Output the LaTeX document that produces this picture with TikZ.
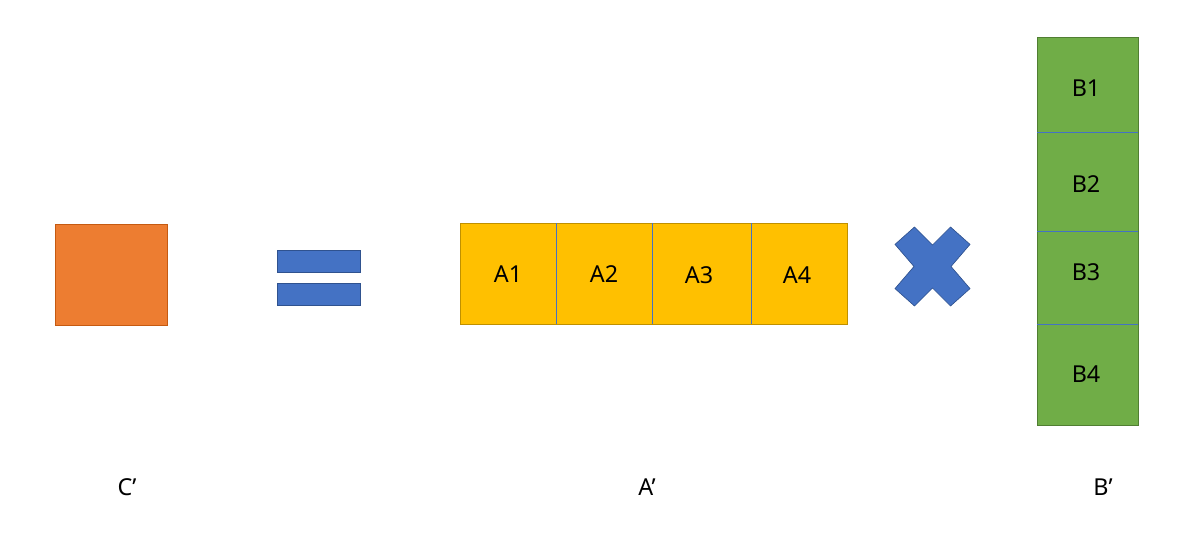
\documentclass[tikz,border=0pt]{standalone}
\usepackage{fontspec}
\setmainfont{Noto Sans}
\definecolor{corange}{HTML}{ED7D31}
\definecolor{corangeD}{HTML}{C55A11}
\definecolor{cblue}{HTML}{4472C4}
\definecolor{cblueD}{HTML}{2F528F}
\definecolor{cyellow}{HTML}{FFC000}
\definecolor{cyellowD}{HTML}{BF9000}
\definecolor{cgreen}{HTML}{70AD47}
\definecolor{cgreenD}{HTML}{507E32}
\begin{document}
\begin{tikzpicture}[x=0.75pt,y=-0.75pt,
  cell/.style={inner sep=0pt,outer sep=0pt},
  acell/.style={cell,fill=cyellow,minimum height=75.75pt},
  bcell/.style={cell,fill=cgreen,minimum width=75.75pt},
  bar/.style={inner sep=0pt,outer sep=0pt,fill=cblue,draw=cblueD,line width=0.6pt,minimum width=62.25pt,minimum height=16.5pt},
  divider/.style={draw=cblue,line width=0.6pt},
  lbl/.style={inner sep=0pt,font=\fontsize{17.5}{20}\selectfont}]
\useasboundingbox (0,0) rectangle (1200,535);
% C'
\node[cell,fill=corange,draw=corangeD,line width=0.7pt,minimum width=84pt,minimum height=75.75pt] (c) at (111,274.5) {};
% equals
\node[bar] (eq1) at (318.5,261.5) {};
\node[bar] (eq2) at (318.5,294.5) {};
% A cells
\node[acell,minimum width=72pt] (a1) at (508,273.5) {};
\node[acell,minimum width=72pt] (a2) at (604,273.5) {};
\node[acell,minimum width=74.25pt] (a3) at (701.5,273.5) {};
\node[acell,minimum width=72pt] (a4) at (799,273.5) {};
\draw[draw=cyellowD,line width=0.7pt] (a1.north west) rectangle (a4.south east);
\draw[divider] (a1.north east) -- (a1.south east);
\draw[divider] (a2.north east) -- (a2.south east);
\draw[divider] (a3.north east) -- (a3.south east);
\node[lbl] (ta1) at (508,274) {A1};
\node[lbl] (ta2) at (604,274) {A2};
\node[lbl] (ta3) at (699,275) {A3};
\node[lbl] (ta4) at (797,275) {A4};
% times
\draw[fill=cblue,draw=cblueD,line width=0.5pt]
  (895,244.4) -- (914.5,227) -- (932.5,245) -- (950.5,227) -- (970,244.4)
  -- (951,266.5) -- (970,288.6) -- (950.5,306) -- (932.5,288) -- (914.5,306)
  -- (895,288.6) -- (914,266.5) -- cycle;
% B cells
\node[bcell,minimum height=71.25pt] (b1) at (1087.5,84.5) {};
\node[bcell,minimum height=74.25pt] (b2) at (1087.5,181.5) {};
\node[bcell,minimum height=69.75pt] (b3) at (1087.5,277.5) {};
\node[bcell,minimum height=75.75pt] (b4) at (1087.5,374.5) {};
\draw[draw=cgreenD,line width=0.7pt] (b1.north west) rectangle (b4.south east);
\draw[divider] (b1.south west) -- (b1.south east);
\draw[divider] (b2.south west) -- (b2.south east);
\draw[divider] (b3.south west) -- (b3.south east);
\node[lbl] (tb1) at (1086,88) {B1};
\node[lbl] (tb2) at (1086,184) {B2};
\node[lbl] (tb3) at (1086,272) {B3};
\node[lbl] (tb4) at (1086,374) {B4};
% labels
\node[lbl] (lc) at (127,487) {C’};
\node[lbl] (la) at (647,487) {A’};
\node[lbl] (lb) at (1103,487) {B’};
\end{tikzpicture}
\end{document}
